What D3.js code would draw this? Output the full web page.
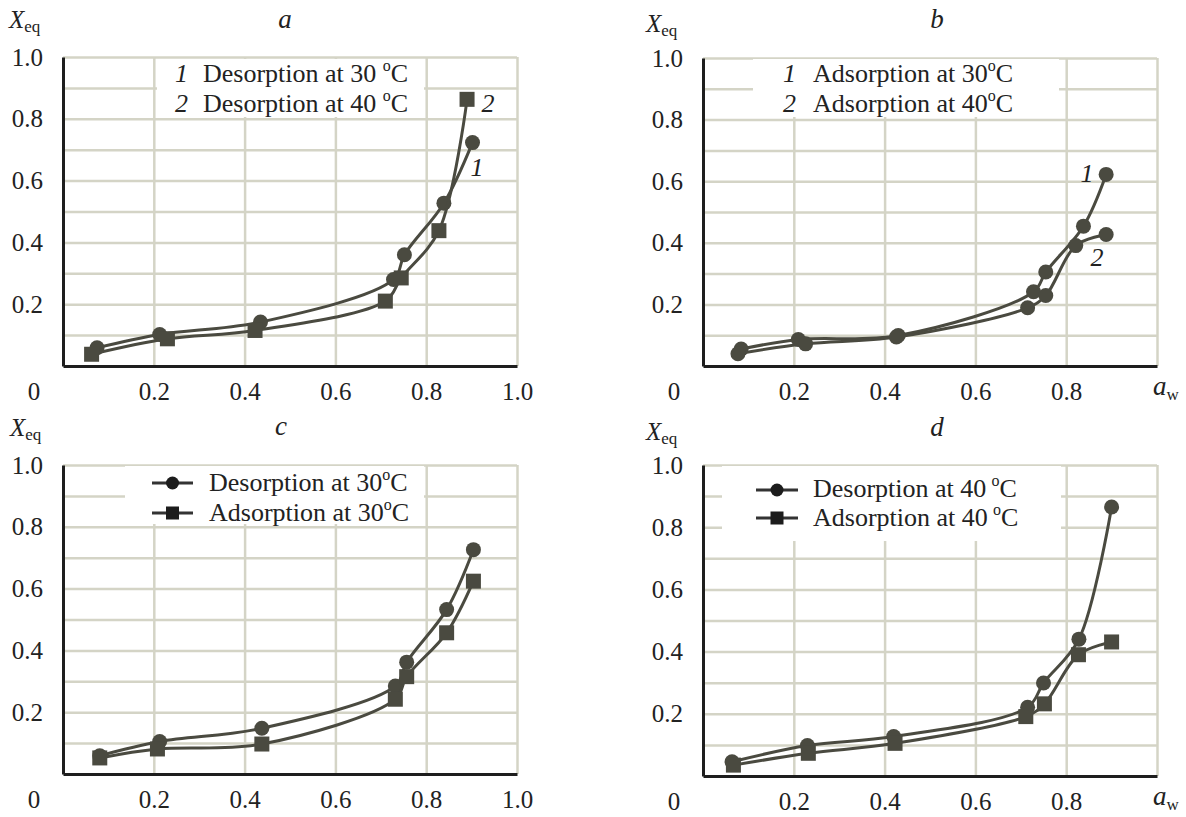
<!DOCTYPE html>
<html>
<head>
<meta charset="utf-8">
<script src="https://cdn.jsdelivr.net/npm/d3@7"></script>
<style>
body { margin: 0; background: #fff; }
text { font-family: "Liberation Serif", "Times New Roman", serif; fill: #222; }
</style>
</head>
<body>
<div id="chart"></div>
<script>
// values (a_w, X_eq)
const awA1 = [0.075, 0.213, 0.435, 0.728, 0.752, 0.839, 0.902];
const xeqA1 = [0.059, 0.102, 0.142, 0.28, 0.36, 0.527, 0.723];
const awA2 = [0.063, 0.23, 0.423, 0.71, 0.745, 0.828, 0.89];
const xeqA2 = [0.038, 0.088, 0.115, 0.21, 0.285, 0.438, 0.863];

const awB1 = [0.084, 0.21, 0.43, 0.728, 0.755, 0.838, 0.888];
const xeqB1 = [0.055, 0.086, 0.099, 0.241, 0.305, 0.454, 0.622];
const awB2 = [0.077, 0.226, 0.426, 0.715, 0.755, 0.821, 0.888];
const xeqB2 = [0.04, 0.072, 0.094, 0.189, 0.229, 0.391, 0.427];

const awC1 = [0.081, 0.213, 0.438, 0.732, 0.757, 0.845, 0.904];
const xeqC1 = [0.059, 0.105, 0.148, 0.285, 0.362, 0.532, 0.726];
const awC2 = [0.081, 0.208, 0.438, 0.732, 0.757, 0.845, 0.904];
const xeqC2 = [0.052, 0.081, 0.097, 0.242, 0.315, 0.457, 0.624];

const awD1 = [0.064, 0.23, 0.42, 0.715, 0.75, 0.828, 0.90];
const xeqD1 = [0.046, 0.098, 0.127, 0.221, 0.299, 0.44, 0.865];
const awD2 = [0.067, 0.232, 0.423, 0.711, 0.752, 0.827, 0.90];
const xeqD2 = [0.035, 0.073, 0.105, 0.191, 0.232, 0.39, 0.431];

const yTicks = [0.2, 0.4, 0.6, 0.8, 1.0];
const yGrid = [0.1, 0.2, 0.3, 0.4, 0.5, 0.6, 0.7, 0.8, 0.9, 1.0];
const xGrid = [0.2, 0.4, 0.6, 0.8, 1.0];
const xTicksFull = [0.2, 0.4, 0.6, 0.8, 1.0];
const xTicksShort = [0.2, 0.4, 0.6, 0.8];

const legendA = ['Desorption at 30', 'Desorption at 40'];
const legendB = ['Adsorption at 30', 'Adsorption at 40'];
const legendC = ['Desorption at 30', 'Adsorption at 30'];
const legendD = ['Desorption at 40', 'Adsorption at 40'];

const gridColour = '#d4d4c6';
const curveColour = '#4a4a40';

const svg = d3.select('#chart').append('svg')
    .attr('width', 1186)
    .attr('height', 817);

const panels = [
    {letter: 'a', left: 63, right: 517, top: 57, bottom: 366, xTicks: xTicksFull, awLabel: false,
     letterPos: [285, 28], xeqPos: [9, 28],
     series: [[awA1, xeqA1, 'circle'], [awA2, xeqA2, 'square']],
     legend: {kind: 'number', texts: legendA, gap: [' ', ' '], box: [157, 59, 424, 117], numX: 175, textX: 203, base: [82, 112]},
     curveLabels: [['2', 488, 112], ['1', 477, 176]]},
    {letter: 'b', left: 703, right: 1157, top: 58, bottom: 366, xTicks: xTicksShort, awLabel: true,
     letterPos: [937, 28], xeqPos: [646, 32],
     series: [[awB1, xeqB1, 'circle'], [awB2, xeqB2, 'circle']],
     legend: {kind: 'number', texts: legendB, gap: ['', ''], box: [753, 59, 1059, 117], numX: 783, textX: 813, base: [82, 112]},
     curveLabels: [['1', 1087, 182], ['2', 1097, 266]]},
    {letter: 'c', left: 63, right: 517, top: 465, bottom: 774, xTicks: xTicksFull, awLabel: false,
     letterPos: [281, 435], xeqPos: [10, 436],
     series: [[awC1, xeqC1, 'circle'], [awC2, xeqC2, 'square']],
     legend: {kind: 'symbol', texts: legendC, gap: ['', ''], box: [125, 466, 424, 524], lineX: [152, 193], textX: 209, base: [491, 521], mid: [483, 513]},
     curveLabels: []},
    {letter: 'd', left: 703, right: 1157, top: 465, bottom: 776, xTicks: xTicksShort, awLabel: true,
     letterPos: [937, 436], xeqPos: [646, 440],
     series: [[awD1, xeqD1, 'circle'], [awD2, xeqD2, 'square']],
     legend: {kind: 'symbol', texts: legendD, gap: ['\u2009', '\u2009'], box: [722, 466, 1061, 541], lineX: [756, 798], textX: 813, base: [497, 526], mid: [490, 518]},
     curveLabels: []}
];

function drawMarker(g, shape, cx, cy, size, colour) {
    if (shape === 'circle') {
        g.append('circle').attr('cx', cx).attr('cy', cy).attr('r', size / 2).attr('fill', colour);
    } else {
        g.append('rect').attr('x', cx - size / 2).attr('y', cy - size / 2)
            .attr('width', size).attr('height', size).attr('fill', colour);
    }
}

function drawPanel(p) {
    const g = svg.append('g');
    const x = d3.scaleLinear().domain([0, 1]).range([p.left, p.right]);
    const y = d3.scaleLinear().domain([0, 1]).range([p.bottom, p.top]);

    // grid
    g.append('g')
        .attr('transform', `translate(${p.left},0)`)
        .call(d3.axisLeft(y).tickValues(yGrid).tickSize(-(p.right - p.left)).tickFormat(''))
        .call(s => s.select('.domain').remove())
        .call(s => s.selectAll('line').attr('stroke', gridColour).attr('stroke-width', 2.5));
    g.append('g')
        .attr('transform', `translate(0,${p.bottom})`)
        .call(d3.axisBottom(x).tickValues(xGrid).tickSize(-(p.bottom - p.top)).tickFormat(''))
        .call(s => s.select('.domain').remove())
        .call(s => s.selectAll('line').attr('stroke', gridColour).attr('stroke-width', 2.5));

    // legend box hides the grid behind it
    const lg = p.legend;
    g.append('rect')
        .attr('x', lg.box[0]).attr('y', lg.box[1])
        .attr('width', lg.box[2] - lg.box[0]).attr('height', lg.box[3] - lg.box[1])
        .attr('fill', '#fff');

    lg.texts.forEach((t, i) => {
        if (lg.kind === 'number') {
            g.append('text').attr('x', lg.numX).attr('y', lg.base[i])
                .attr('font-size', 26).attr('font-style', 'italic').text(String(i + 1));
        } else {
            g.append('line').attr('x1', lg.lineX[0]).attr('x2', lg.lineX[1])
                .attr('y1', lg.mid[i]).attr('y2', lg.mid[i])
                .attr('stroke', '#333').attr('stroke-width', 3);
            drawMarker(g, i === 0 ? 'circle' : 'square', (lg.lineX[0] + lg.lineX[1]) / 2, lg.mid[i], 13, '#1c1c1c');
        }
        const tx = g.append('text').attr('x', lg.textX).attr('y', lg.base[i]).attr('font-size', 26);
        tx.append('tspan').text(t + lg.gap[i]);
        tx.append('tspan').attr('font-size', 16).attr('dy', -11).text('o');
        tx.append('tspan').attr('dy', 11).text('C');
    });

    // axes
    g.append('g')
        .attr('transform', `translate(${p.left},0)`)
        .call(d3.axisLeft(y).tickValues(yTicks).tickSize(0).tickSizeOuter(0).tickPadding(20).tickFormat(d3.format('.1f')))
        .call(s => s.select('.domain').attr('stroke', '#1e1e1e').attr('stroke-width', 3))
        .call(s => s.selectAll('text').attr('font-size', 25).attr('fill', '#222'));
    g.append('g')
        .attr('transform', `translate(0,${p.bottom})`)
        .call(d3.axisBottom(x).tickValues(p.xTicks).tickSize(0).tickSizeOuter(0).tickPadding(16).tickFormat(d3.format('.1f')))
        .call(s => s.select('.domain').attr('stroke', '#1e1e1e').attr('stroke-width', 3))
        .call(s => s.selectAll('text').attr('font-size', 25).attr('fill', '#222'));

    g.append('text').attr('x', p.left - 29).attr('y', p.bottom + 34)
        .attr('text-anchor', 'middle').attr('font-size', 25).text('0');

    if (p.awLabel) {
        const t = g.append('text').attr('x', p.right - 4).attr('y', p.bottom + 29).attr('font-size', 27);
        t.append('tspan').attr('font-style', 'italic').text('a');
        t.append('tspan').attr('font-size', 17).attr('dy', 5).text('w');
    }

    // titles
    g.append('text').attr('x', p.letterPos[0]).attr('y', p.letterPos[1])
        .attr('text-anchor', 'middle').attr('font-size', 27).attr('font-style', 'italic').text(p.letter);
    const xl = g.append('text').attr('x', p.xeqPos[0]).attr('y', p.xeqPos[1]).attr('font-size', 25);
    xl.append('tspan').attr('font-style', 'italic').text('X');
    xl.append('tspan').attr('font-size', 17).attr('dy', 4).text('eq');

    // curves
    const line = d3.line()
        .x(d => x(d[0]))
        .y(d => y(d[1]))
        .curve(d3.curveCatmullRom.alpha(0.5));

    p.series.forEach(([xs, ys, shape]) => {
        const pts = xs.map((v, i) => [v, ys[i]]);
        g.append('path')
            .attr('d', line(pts))
            .attr('fill', 'none')
            .attr('stroke', curveColour)
            .attr('stroke-width', 3);
        pts.forEach(d => drawMarker(g, shape, x(d[0]), y(d[1]), 15, curveColour));
    });

    p.curveLabels.forEach(([t, lx, ly]) => {
        g.append('text').attr('x', lx).attr('y', ly)
            .attr('text-anchor', 'middle').attr('font-size', 26).attr('font-style', 'italic').text(t);
    });
}

panels.forEach(drawPanel);
</script>
</body>
</html>
